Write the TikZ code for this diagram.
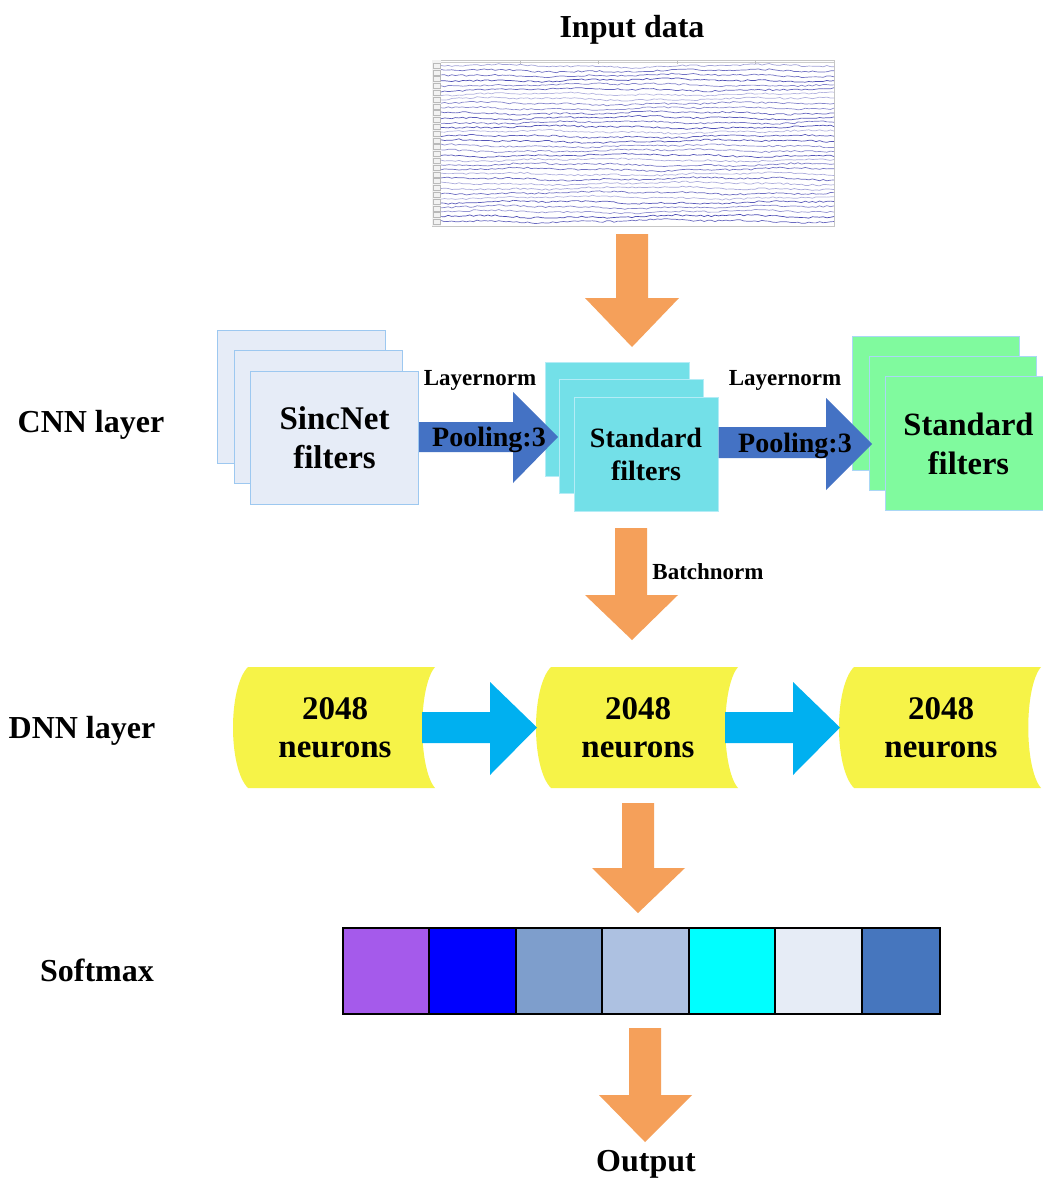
\documentclass[tikz,border=0pt]{standalone}
\usepackage{fontspec}
\setmainfont{Liberation Serif}
\usetikzlibrary{calc}
\definecolor{sincfill}{RGB}{230,236,247}
\definecolor{sincline}{RGB}{157,200,240}
\definecolor{stdfill}{RGB}{115,224,232}
\definecolor{stdline}{RGB}{180,236,246}
\definecolor{grnfill}{RGB}{128,250,158}
\definecolor{grnline}{RGB}{170,215,245}
\definecolor{blockblue}{RGB}{68,114,196}
\definecolor{orangearrow}{RGB}{245,160,90}
\definecolor{dnncyan}{RGB}{0,176,240}
\definecolor{dnnyellow}{RGB}{246,243,72}
\definecolor{eeg}{RGB}{65,65,175}
\definecolor{smA}{RGB}{165,90,235}
\definecolor{smB}{RGB}{0,0,255}
\definecolor{smC}{RGB}{126,158,204}
\definecolor{smD}{RGB}{173,193,225}
\definecolor{smE}{RGB}{0,255,255}
\definecolor{smF}{RGB}{230,236,246}
\definecolor{smG}{RGB}{70,118,190}
\begin{document}
\begin{tikzpicture}[x=1pt,y=-1pt,
  title/.style={font=\fontsize{32}{38}\selectfont\bfseries, inner sep=0pt},
  small/.style={font=\fontsize{23}{27}\selectfont\bfseries, inner sep=0pt},
  pool/.style={font=\fontsize{28}{33}\selectfont\bfseries, inner sep=0pt},
  sincbox/.style={draw=sincline, fill=sincfill, line width=1pt, minimum width=168pt, minimum height=133pt, inner sep=0pt},
  stdbox/.style={draw=stdline, fill=stdfill, line width=1pt, minimum width=144pt, minimum height=114pt, inner sep=0pt},
  grnbox/.style={draw=grnline, fill=grnfill, line width=1pt, minimum width=167pt, minimum height=134pt, inner sep=0pt},
  dnnshape/.style={fill=dnnyellow},
  cell/.style={draw=black, line width=1.3pt},
  orarrow/.style={fill=orangearrow},
  bluearrow/.style={fill=blockblue},
  cyanarrow/.style={fill=dnncyan}]
\clip (0,0) rectangle (1043,1178);
\fill[white] (0,0) rectangle (1043,1178);

% ---------- Input data ----------
\node[title, anchor=base] (inputlbl) at (632,37) {Input data};
\draw[gray!45, line width=0.6pt] (432,60) rectangle (834,226);
\fill[gray!10] (432,60) rectangle (441,226);
\foreach \k in {0,...,23} {
  \draw[gray!55, line width=0.4pt] (433,{63+\k*6.8}) rectangle (440,{68+\k*6.8});
}
\draw[gray!40, line width=0.5pt] (441,62) -- (834,62);
\foreach \tx in {520,598,677,755} { \draw[gray!50, line width=0.5pt] (\tx,61) -- (\tx,64); }
\pgfmathsetseed{42}
\foreach \i in {0,...,33} {
  \pgfmathsetmacro\yy{66+\i*4.7}
  \pgfmathsetmacro\op{0.35+0.6*rnd}
  \draw[eeg, opacity=\op, line width=0.7pt, line join=round]
    plot[samples=110, domain=441:834, variable=\t] (\t, {\yy + 0.8*rand + 1.1*sin(\t*1.3+\i*47) + 0.6*sin(\t*4.1+\i*13)});
}
\coordinate (eegbottom) at (632,226);

% ---------- arrow 1 down ----------
\fill[orarrow] (616,234) -- (648,234) -- (648,298) -- (679,298) -- (632,347) -- (585,298) -- (616,298) -- cycle;

% ---------- CNN layer ----------
\node[title, anchor=base] (cnnlbl) at (91,432) {CNN layer};

\node[sincbox] (sinc1) at (301,396.5) {};
\node[sincbox] (sinc2) at (318,416.5) {};
\node[sincbox, font=\fontsize{33}{39}\selectfont\bfseries, align=center] (sinc3) at (334.5,437.5) {SincNet\\filters};

\node[stdbox] (std1) at (617.5,419) {};
\node[stdbox] (std2) at (631.5,436) {};
\node[stdbox, font=\fontsize{28}{33}\selectfont\bfseries, align=center] (std3) at (646,454) {Standard\\filters};

\node[grnbox] (grn1) at (935.5,403) {};
\node[grnbox] (grn2) at (952.5,423) {};
\node[grnbox, font=\fontsize{32.5}{39}\selectfont\bfseries, align=center] (grn3) at (968.5,443.5) {Standard\\filters};

% blue block arrows
\fill[bluearrow] (sinc3.east |- 0,422) -- (513,422) -- (513,392) -- (558,437) -- (513,483) -- (513,452) -- (sinc3.east |- 0,452) -- cycle;
\fill[bluearrow] (std3.east |- 0,427) -- (826,427) -- (826,398) -- (872,444) -- (826,490) -- (826,458) -- (std3.east |- 0,458) -- cycle;

\node[small, anchor=base] (ln1) at (480,385) {Layernorm};
\node[small, anchor=base] (ln2) at (785,385) {Layernorm};
\node[pool, anchor=base] (pool1) at (489,446) {Pooling:3};
\node[pool, anchor=base] (pool2) at (795,452) {Pooling:3};

% ---------- arrow 2 down ----------
\fill[orarrow] (615,528) -- (647,528) -- (647,595) -- (678,595) -- (632,640) -- (585,595) -- (615,595) -- cycle;
\node[small, anchor=base] (bn) at (708,579) {Batchnorm};

% ---------- DNN layer ----------
\node[title, anchor=base] (dnnlbl) at (82,738) {DNN layer};
\foreach \dx/\nm in {0/1,303/2,606/3} {
  \begin{scope}[xshift=\dx]
    \fill[dnnshape] (248,667) -- (435,667) .. controls (418,687) and (418,768) .. (435,788)
      -- (248,788) .. controls (228,768) and (228,687) .. (248,667) -- cycle;
  \end{scope}
}
\node[font=\fontsize{33}{38}\selectfont\bfseries, align=center, inner sep=0pt] (dnn1) at (335,728) {2048\\neurons};
\node[font=\fontsize{33}{38}\selectfont\bfseries, align=center, inner sep=0pt] (dnn2) at (638,728) {2048\\neurons};
\node[font=\fontsize{33}{38}\selectfont\bfseries, align=center, inner sep=0pt] (dnn3) at (941,728) {2048\\neurons};
\fill[cyanarrow] (422,712) -- (490,712) -- (490,682) -- (537,727.5) -- (490,775) -- (490,743) -- (422,743) -- cycle;
\fill[cyanarrow] (725,712) -- (793,712) -- (793,682) -- (840,727.5) -- (793,775) -- (793,743) -- (725,743) -- cycle;

% ---------- arrow 3 down ----------
\fill[orarrow] (622,803) -- (654,803) -- (654,868) -- (685,868) -- (638,913) -- (592,868) -- (622,868) -- cycle;

% ---------- Softmax ----------
\node[title, anchor=base] (smlbl) at (97,981) {Softmax};
\foreach \xa/\xb/\cc in {343/429/smA,429/516/smB,516/602/smC,602/689/smD,689/775/smE,775/862/smF,862/940/smG} {
  \draw[cell, fill=\cc] (\xa,928) rectangle (\xb,1014);
}

% ---------- arrow 4 down ----------
\fill[orarrow] (629,1028) -- (661,1028) -- (661,1095) -- (692,1095) -- (645,1142) -- (599,1095) -- (629,1095) -- cycle;
\node[title, anchor=base] (outlbl) at (646,1171) {Output};
\end{tikzpicture}
\end{document}
